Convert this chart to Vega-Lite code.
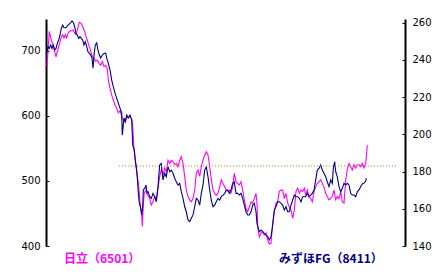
{
  "$schema": "https://vega.github.io/schema/vega-lite/v6.json",
  "width": 359,
  "height": 227,
  "autosize": {"type": "none"},
  "padding": {"left": 46, "top": 19, "right": 34, "bottom": 26},
  "background": "white",
  "config": {
    "view": {"stroke": null},
    "axis": {
      "grid": false,
      "domainColor": "black",
      "domainWidth": 2,
      "tickColor": "black",
      "tickSize": -3,
      "tickWidth": 1,
      "labelColor": "black",
      "labelFont": "DejaVu Sans",
      "labelFontSize": 10,
      "labelPadding": 9,
      "labelOverlap": false,
      "labelBound": false,
      "labelFlush": false,
      "title": null
    }
  },
  "datasets": {
    "hitachi": [
      {"t":0,"p":676},{"t":2.3,"p":730},{"t":3.7,"p":720},{"t":5,"p":714},{"t":6.3,"p":707},{"t":7.7,"p":699},{"t":9,"p":691},{"t":10.3,"p":699},{"t":11.7,"p":707},{"t":13,"p":714},{"t":14.3,"p":722},{"t":15.7,"p":725},{"t":17,"p":720},{"t":18.3,"p":725},{"t":19.7,"p":720},{"t":21,"p":727},{"t":22.3,"p":730},{"t":24.3,"p":731},{"t":26.3,"p":732},{"t":27.7,"p":727},{"t":29,"p":725},{"t":30.3,"p":732},{"t":32.3,"p":744},{"t":33.7,"p":743},{"t":35,"p":740},{"t":36.3,"p":735},{"t":37.7,"p":730},{"t":39,"p":722},{"t":40.3,"p":717},{"t":41.7,"p":709},{"t":43,"p":704},{"t":44.3,"p":696},{"t":45.7,"p":691},{"t":47,"p":689},{"t":48.7,"p":684},{"t":50.3,"p":686},{"t":52,"p":681},{"t":53.7,"p":678},{"t":55.3,"p":684},{"t":57,"p":676},{"t":58.7,"p":678},{"t":60.3,"p":673},{"t":61.3,"p":655},{"t":63,"p":643},{"t":64.7,"p":632},{"t":66.3,"p":625},{"t":68,"p":617},{"t":69.7,"p":612},{"t":71.3,"p":605},{"t":73,"p":608},{"t":74.7,"p":600},{"t":76.3,"p":594},{"t":78,"p":591},{"t":79.7,"p":597},{"t":81.3,"p":598},{"t":83,"p":600},{"t":84.7,"p":595},{"t":85.7,"p":586},{"t":86.3,"p":568},{"t":87,"p":548},{"t":88.3,"p":532},{"t":89.7,"p":514},{"t":91.3,"p":497},{"t":92.3,"p":482},{"t":93,"p":466},{"t":94,"p":455},{"t":94.7,"p":448},{"t":95.3,"p":430},{"t":96.3,"p":463},{"t":97.3,"p":482},{"t":99,"p":486},{"t":100.7,"p":478},{"t":102.3,"p":475},{"t":104.3,"p":463},{"t":106,"p":468},{"t":107.7,"p":476},{"t":109.3,"p":471},{"t":111,"p":489},{"t":112.7,"p":507},{"t":114.3,"p":517},{"t":116,"p":509},{"t":117.7,"p":520},{"t":119.3,"p":514},{"t":121,"p":532},{"t":122.7,"p":527},{"t":124.3,"p":532},{"t":126,"p":530},{"t":127.7,"p":525},{"t":129.3,"p":527},{"t":131,"p":522},{"t":132.7,"p":532},{"t":134.3,"p":537},{"t":136,"p":527},{"t":137.7,"p":507},{"t":139.3,"p":486},{"t":141,"p":476},{"t":142.7,"p":471},{"t":144.3,"p":468},{"t":146,"p":473},{"t":147.7,"p":486},{"t":149.3,"p":512},{"t":151,"p":517},{"t":152.7,"p":507},{"t":154.3,"p":522},{"t":156,"p":532},{"t":157.7,"p":540},{"t":159.3,"p":545},{"t":161,"p":540},{"t":162.7,"p":522},{"t":164.3,"p":502},{"t":166,"p":486},{"t":167.7,"p":481},{"t":169.3,"p":478},{"t":171,"p":481},{"t":172.7,"p":491},{"t":174.3,"p":502},{"t":176,"p":496},{"t":177.7,"p":491},{"t":179.3,"p":486},{"t":180.7,"p":484},{"t":182.3,"p":486},{"t":184,"p":481},{"t":185.7,"p":491},{"t":187.3,"p":512},{"t":189,"p":499},{"t":190.7,"p":496},{"t":192.3,"p":494},{"t":194,"p":499},{"t":195.7,"p":486},{"t":197.3,"p":471},{"t":199,"p":458},{"t":200.7,"p":453},{"t":202.3,"p":460},{"t":204,"p":468},{"t":205.7,"p":466},{"t":207.3,"p":473},{"t":209,"p":481},{"t":210,"p":466},{"t":210.7,"p":430},{"t":212.3,"p":414},{"t":214,"p":420},{"t":215.7,"p":422},{"t":217.3,"p":417},{"t":219,"p":420},{"t":220.7,"p":409},{"t":222.3,"p":403},{"t":224,"p":404},{"t":225.7,"p":435},{"t":227.3,"p":453},{"t":229,"p":466},{"t":230.7,"p":468},{"t":232.3,"p":484},{"t":234,"p":486},{"t":235.7,"p":486},{"t":237.3,"p":473},{"t":239,"p":481},{"t":240.7,"p":466},{"t":242.3,"p":460},{"t":244,"p":455},{"t":245.7,"p":443},{"t":247.3,"p":455},{"t":249,"p":484},{"t":250.7,"p":489},{"t":252.3,"p":481},{"t":254,"p":486},{"t":255.7,"p":484},{"t":257.3,"p":489},{"t":258.7,"p":478},{"t":260.3,"p":486},{"t":262,"p":476},{"t":263.7,"p":473},{"t":265.3,"p":468},{"t":267,"p":484},{"t":268.7,"p":491},{"t":270.3,"p":496},{"t":272,"p":499},{"t":273.7,"p":502},{"t":275.3,"p":496},{"t":277,"p":491},{"t":278.7,"p":481},{"t":280.3,"p":476},{"t":282,"p":471},{"t":283.7,"p":473},{"t":285.3,"p":476},{"t":287,"p":486},{"t":288.7,"p":471},{"t":290.3,"p":476},{"t":292,"p":473},{"t":293.7,"p":484},{"t":295.3,"p":468},{"t":297,"p":466},{"t":298.7,"p":502},{"t":300.3,"p":517},{"t":302,"p":527},{"t":303.7,"p":522},{"t":305.3,"p":517},{"t":307,"p":525},{"t":308.7,"p":520},{"t":310.3,"p":525},{"t":312,"p":525},{"t":313.7,"p":522},{"t":315.3,"p":527},{"t":317,"p":520},{"t":318.7,"p":527},{"t":319.7,"p":543},{"t":320.3,"p":555}
    ],
    "mizuho": [
      {"t":0,"p":244.4},{"t":1,"p":247.1},{"t":2.3,"p":246.2},{"t":3.7,"p":248},{"t":5,"p":246.2},{"t":6.3,"p":248},{"t":7.7,"p":245.3},{"t":9,"p":246.2},{"t":10.3,"p":248.9},{"t":11.7,"p":250.7},{"t":13,"p":253.4},{"t":14.3,"p":257},{"t":15.7,"p":258.7},{"t":17,"p":257.3},{"t":19,"p":257.3},{"t":21,"p":258.7},{"t":23,"p":259.7},{"t":25,"p":260.9},{"t":26.3,"p":260.2},{"t":27.7,"p":257.8},{"t":29,"p":254.3},{"t":30.3,"p":253.4},{"t":31.7,"p":251.6},{"t":33,"p":252.5},{"t":34.3,"p":251.6},{"t":35.7,"p":250.7},{"t":37,"p":248},{"t":38.3,"p":249.8},{"t":39.7,"p":247.1},{"t":41,"p":244.4},{"t":42.3,"p":243.5},{"t":43.7,"p":242.6},{"t":45,"p":240.9},{"t":46,"p":235.5},{"t":47,"p":242.6},{"t":48.3,"p":248},{"t":49.7,"p":249.1},{"t":51,"p":245.3},{"t":52.3,"p":242.6},{"t":53.7,"p":241},{"t":55.3,"p":242.6},{"t":57,"p":243.5},{"t":58.7,"p":243.7},{"t":59.7,"p":241},{"t":61.3,"p":238.3},{"t":63,"p":234.6},{"t":64.7,"p":229.2},{"t":66.3,"p":225.6},{"t":68,"p":222.2},{"t":69.7,"p":219.5},{"t":71.3,"p":216.8},{"t":73,"p":214.1},{"t":74.7,"p":211.5},{"t":75.3,"p":199.6},{"t":77,"p":208.8},{"t":78.3,"p":206.8},{"t":79.7,"p":210.4},{"t":81.3,"p":208.8},{"t":83,"p":210.4},{"t":84.7,"p":207.7},{"t":85.7,"p":194.3},{"t":87.3,"p":191.6},{"t":88.3,"p":186.2},{"t":89.7,"p":180.8},{"t":90.7,"p":173.8},{"t":91.3,"p":168.5},{"t":92.3,"p":163.1},{"t":93.7,"p":160.4},{"t":94.7,"p":156.7},{"t":95.7,"p":161},{"t":96.3,"p":170.1},{"t":98,"p":171.2},{"t":99,"p":172.8},{"t":100,"p":168.5},{"t":101,"p":169.2},{"t":102.7,"p":166.5},{"t":104.3,"p":165.6},{"t":106,"p":168.3},{"t":107.7,"p":166.5},{"t":109.3,"p":163.8},{"t":111,"p":171.9},{"t":112.7,"p":183.5},{"t":114.3,"p":184.4},{"t":116,"p":175.5},{"t":117.7,"p":179.1},{"t":119.3,"p":177.2},{"t":121,"p":182.6},{"t":122.7,"p":179.9},{"t":124.3,"p":180.8},{"t":126,"p":179.1},{"t":127.7,"p":176.4},{"t":129.3,"p":174.5},{"t":131,"p":172.8},{"t":132.7,"p":173.7},{"t":134.3,"p":169.2},{"t":136,"p":165.6},{"t":137.7,"p":161.1},{"t":139.3,"p":158.4},{"t":141,"p":154},{"t":142.7,"p":153.1},{"t":144.3,"p":154.9},{"t":146,"p":156.7},{"t":147.7,"p":161.1},{"t":149.3,"p":165.6},{"t":151,"p":164.7},{"t":152.7,"p":162},{"t":154.3,"p":168.3},{"t":156,"p":172.8},{"t":157.7,"p":180.8},{"t":159.3,"p":182.6},{"t":161,"p":177.2},{"t":162.7,"p":170.1},{"t":164.3,"p":164.7},{"t":166,"p":161.1},{"t":167.7,"p":162},{"t":169.3,"p":163.8},{"t":171,"p":165.6},{"t":172.7,"p":164.7},{"t":174.3,"p":166.5},{"t":176,"p":167.4},{"t":177.7,"p":168.3},{"t":179.3,"p":170.1},{"t":180.7,"p":170.1},{"t":182.3,"p":168.3},{"t":184,"p":170.1},{"t":185.7,"p":173.7},{"t":187.3,"p":174.5},{"t":189,"p":168.3},{"t":190.7,"p":168.3},{"t":192.3,"p":167.4},{"t":194,"p":168.3},{"t":195.7,"p":165.6},{"t":197.3,"p":162},{"t":199,"p":158.4},{"t":200.7,"p":156.7},{"t":202.3,"p":156.7},{"t":204,"p":158.4},{"t":205.7,"p":162},{"t":207.3,"p":162.9},{"t":209,"p":158.4},{"t":210,"p":152.2},{"t":211.3,"p":149.5},{"t":212.3,"p":147.7},{"t":214,"p":148.6},{"t":215.7,"p":147.7},{"t":217.3,"p":146.8},{"t":219,"p":145.9},{"t":220.7,"p":145},{"t":222.3,"p":143.2},{"t":224,"p":145},{"t":225.7,"p":151.3},{"t":227.3,"p":159.3},{"t":229,"p":161.1},{"t":230.7,"p":163.8},{"t":232.3,"p":163.8},{"t":234,"p":162.9},{"t":235.7,"p":162},{"t":237.3,"p":159.3},{"t":239,"p":161.1},{"t":240.7,"p":158.4},{"t":242.3,"p":158.4},{"t":244,"p":162},{"t":245.7,"p":164.7},{"t":247.3,"p":167.4},{"t":249,"p":166.5},{"t":250.7,"p":166.5},{"t":252.3,"p":165.6},{"t":254,"p":163.8},{"t":255.7,"p":166.5},{"t":257.3,"p":166.5},{"t":258.7,"p":166.5},{"t":260.3,"p":168.3},{"t":262,"p":166.5},{"t":263.7,"p":167.4},{"t":265.3,"p":168.3},{"t":267,"p":170.1},{"t":268.7,"p":175.5},{"t":270.3,"p":180.8},{"t":272,"p":181.7},{"t":273.7,"p":183.5},{"t":275.3,"p":180.8},{"t":277,"p":179.1},{"t":278.7,"p":177.2},{"t":280.3,"p":174.5},{"t":282,"p":171.9},{"t":283.7,"p":175.5},{"t":285.3,"p":173.7},{"t":286.3,"p":181.7},{"t":287.7,"p":185.3},{"t":288.7,"p":179.9},{"t":290.3,"p":177.2},{"t":292,"p":171.9},{"t":293.7,"p":169.2},{"t":295.3,"p":171},{"t":297,"p":173.7},{"t":298.7,"p":172.8},{"t":300.3,"p":173.7},{"t":302,"p":172.8},{"t":303.7,"p":168.3},{"t":305.3,"p":167.4},{"t":307,"p":167.4},{"t":308.7,"p":166.5},{"t":310.3,"p":169.2},{"t":312,"p":170.1},{"t":313.7,"p":172},{"t":315.3,"p":173.3},{"t":317,"p":173.8},{"t":318.7,"p":174.9},{"t":319.3,"p":176.5}
    ]
  },
  "layer": [
    {
      "layer": [
        {
          "data": {"name": "hitachi"},
          "mark": {"type": "line", "color": "#ff00ff", "strokeWidth": 1.1},
          "encoding": {
            "x": {"field": "t", "type": "quantitative", "scale": {"domain": [-1, 358], "nice": false, "zero": false}, "axis": null},
            "y": {"field": "p", "type": "quantitative", "scale": {"domain": [400, 749.2], "nice": false, "zero": false},
                  "axis": {"orient": "left", "values": [400, 500, 600, 700], "labelOverlap": false}}
          }
        },
        {
          "data": {"values": [{}]},
          "mark": {"type": "text", "color": "#ff00ff", "font": "Noto Sans CJK JP", "fontSize": 12, "fontWeight": "bold", "align": "left", "baseline": "middle"},
          "encoding": {
            "x": {"datum": 17, "type": "quantitative"},
            "y": {"datum": 380, "type": "quantitative"},
            "text": {"value": "日立（6501）"}
          }
        }
      ]
    },
    {
      "layer": [
        {
          "data": {"name": "mizuho"},
          "mark": {"type": "line", "color": "#000080", "strokeWidth": 1.1},
          "encoding": {
            "x": {"field": "t", "type": "quantitative"},
            "y": {"field": "p", "type": "quantitative", "scale": {"domain": [140, 262], "nice": false, "zero": false},
                  "axis": {"orient": "right", "values": [140, 160, 180, 200, 220, 240, 260], "labelPadding": 10, "labelOverlap": false, "tickCount": 7}}
          }
        },
        {
          "data": {"values": [{}]},
          "mark": {"type": "rule", "color": "#e8701a", "strokeWidth": 1, "strokeDash": [1, 2]},
          "encoding": {
            "x": {"datum": 72, "type": "quantitative"},
            "x2": {"datum": 351},
            "y": {"datum": 183, "type": "quantitative"}
          }
        },
        {
          "data": {"values": [{}]},
          "mark": {"type": "text", "color": "#000080", "font": "Noto Sans CJK JP", "fontSize": 12, "fontWeight": "bold", "align": "left", "baseline": "middle"},
          "encoding": {
            "x": {"datum": 232, "type": "quantitative"},
            "y": {"datum": 133, "type": "quantitative"},
            "text": {"value": "みずほFG（8411）"}
          }
        }
      ]
    }
  ],
  "resolve": {"scale": {"y": "independent"}}
}
